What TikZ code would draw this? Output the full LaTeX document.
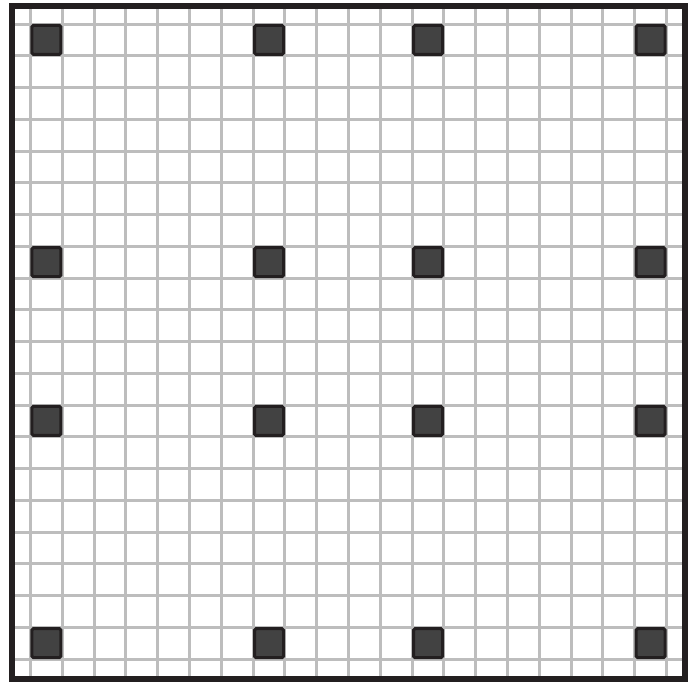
\documentclass[tikz,border=0pt]{standalone}
\usepackage{tikz}
\definecolor{framecol}{HTML}{231F20}
\definecolor{gridcol}{HTML}{BDBDBD}
\definecolor{sqfill}{HTML}{424242}
\tikzset{
  gridline/.style={draw=gridcol, line width=3pt},
  frameline/.style={draw=framecol, line width=6pt},
  sqbox/.style={rectangle, minimum size=29pt, inner sep=0pt, fill=sqfill, draw=framecol, line width=3pt, rounded corners=1.5pt}
}
\begin{document}
\begin{tikzpicture}[x=1pt,y=-1pt]
\useasboundingbox (0,0) rectangle (692,681);
\fill[white] (0,0) rectangle (692,681);
\foreach \i in {0,...,20} {
  \draw[gridline] ({30.5+31.8*\i},6) -- ({30.5+31.8*\i},679);
  \draw[gridline] (12,{24+31.75*\i}) -- (685,{24+31.75*\i});
}
\draw[frameline] (12,6) rectangle (685,679);
\foreach \c in {0,7,12,19} {
  \foreach \r in {0,7,12,19} {
    \node[sqbox] (s-\c-\r) at ({30.5+31.8*(\c+0.5)},{24+31.75*(\r+0.5)}) {};
  }
}
\end{tikzpicture}
\end{document}
